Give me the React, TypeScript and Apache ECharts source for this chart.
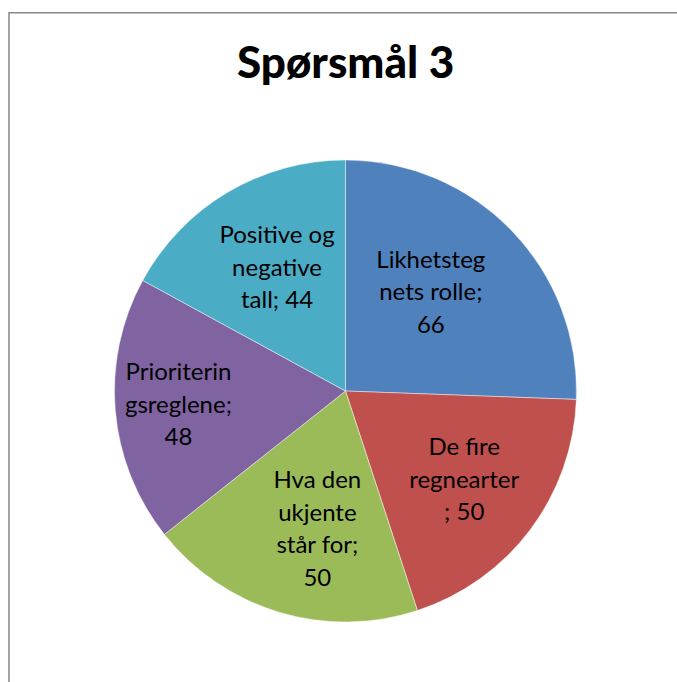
import React, { useEffect, useRef } from "react";
import * as echarts from "echarts";

const TITLE = "Spørsmål 3";
const CATEGORIES = [
  "Likhetstegnets rolle",
  "De fire regnearter",
  "Hva den ukjente står for",
  "Prioriteringsreglene",
  "Positive og negative tall",
];
const LABEL_TEXTS = [
  "Likhetsteg\nnets rolle;\n66",
  "De fire\nregnearter\n; 50",
  "Hva den\nukjente\nstår for;\n50",
  "Prioriterin\ngsreglene;\n48",
  "Positive og\nnegative\ntall; 44",
];
const VALUES = [66, 50, 50, 48, 44];
const COLORS = ["#4F81BD", "#C0504D", "#9BBB59", "#8064A2", "#4BACC6"];
// label nudges (px) from the default inside position
const LABEL_SHIFT = [
  [0, -18],
  [24, 16],
  [6, 23],
  [-49, 2],
  [-8, -23],
];

export default function App() {
  const ref = useRef<HTMLDivElement>(null);
  useEffect(() => {
    if (!ref.current) return;
    const chart = echarts.init(ref.current, undefined, { renderer: "svg" });
    chart.setOption({
      animation: false,
      backgroundColor: "#ffffff",
      title: {
        text: TITLE,
        left: 232,
        top: 34,
        textStyle: {
          fontFamily: "Lato",
          fontWeight: 900,
          fontSize: 44,
          color: "#000000",
        },
      },
      graphic: [
        {
          type: "rect",
          shape: { x: 9, y: 12.8, width: 720, height: 720 },
          style: { fill: "none", stroke: "#878787", lineWidth: 1.5 },
          silent: true,
        },
      ],
      series: [
        {
          type: "pie",
          center: [345.5, 391],
          radius: [0, 231],
          startAngle: 90,
          clockwise: true,
          avoidLabelOverlap: false,
          itemStyle: { borderColor: "rgba(255,255,255,0.45)", borderWidth: 1 },
          label: {
            show: true,
            position: "inside",
            fontFamily: "Lato",
            fontSize: 24,
            lineHeight: 32.5,
            color: "#000000",
            align: "center",
            formatter: (p: any) => LABEL_TEXTS[p.dataIndex],
          },
          labelLine: { show: false },
          labelLayout: (p: any) => ({
            dx: LABEL_SHIFT[p.dataIndex][0],
            dy: LABEL_SHIFT[p.dataIndex][1],
          }),
          emphasis: { disabled: true },
          data: CATEGORIES.map((name, i) => ({
            name,
            value: VALUES[i],
            itemStyle: { color: COLORS[i] },
          })),
        },
      ],
    });
    return () => chart.dispose();
  }, []);
  return (
    <div
      ref={ref}
      style={{ position: "absolute", left: 0, top: 0, width: 677, height: 682 }}
    />
  );
}
